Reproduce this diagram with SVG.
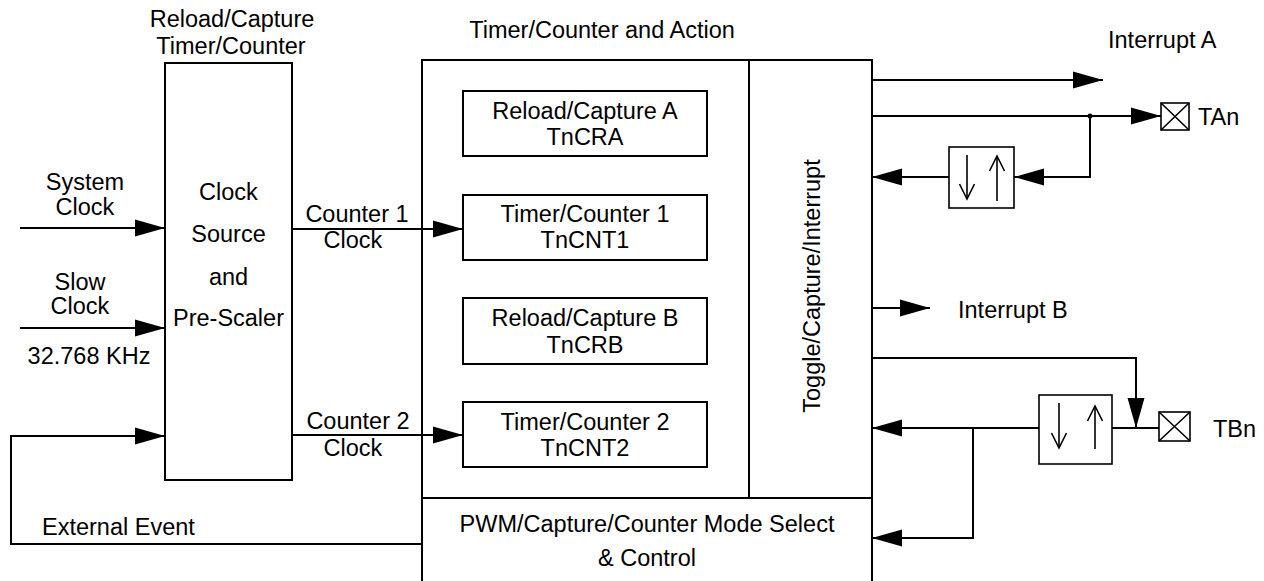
<svg xmlns="http://www.w3.org/2000/svg" width="1264" height="581" viewBox="0 0 1264 581">
<style>
text{font-family:"Liberation Sans",Arial,sans-serif;font-size:23.5px;fill:#000}
.m{text-anchor:middle}
.box{fill:none;stroke:#000;stroke-width:2}
.ln{fill:none;stroke:#000;stroke-width:2}
.thin{fill:none;stroke:#000;stroke-width:1.6}
</style>
<defs>
<marker id="ah" markerUnits="userSpaceOnUse" markerWidth="30" markerHeight="17" refX="30" refY="8.5" orient="auto" overflow="visible">
<path d="M0,0 L30,8.5 L0,17 Z" fill="#000"/>
</marker>
<marker id="va" markerUnits="userSpaceOnUse" markerWidth="16" markerHeight="16" refX="15" refY="7.5" orient="auto" overflow="visible">
<path d="M0,0 L15,7.5 L0,15" fill="none" stroke="#000" stroke-width="1.6"/>
</marker>
</defs>
<rect width="1264" height="581" fill="#fff"/>

<g id="clock-source">
<text class="m" x="232" y="27">Reload/Capture</text>
<text class="m" x="231" y="54">Timer/Counter</text>
<rect class="box" x="165" y="63" width="127" height="417"/>
<text class="m" x="228.5" y="200">Clock</text>
<text class="m" x="228.5" y="242">Source</text>
<text class="m" x="228.5" y="285">and</text>
<text class="m" x="228.5" y="326">Pre-Scaler</text>
</g>

<g id="timer-counter-action">
<text class="m" x="602" y="38">Timer/Counter and Action</text>
<path class="box" d="M422,581 V60 H872 V581"/>
<line class="ln" x1="749" y1="60" x2="749" y2="498"/>
<line class="ln" x1="422" y1="498" x2="872" y2="498"/>
</g>

<g id="rc-a">
<rect class="box" x="463" y="91" width="244" height="65"/>
<text class="m" x="585" y="119">Reload/Capture A</text>
<text class="m" x="585" y="145">TnCRA</text>
</g>
<g id="tc-1">
<rect class="box" x="463" y="195" width="244" height="65"/>
<text class="m" x="585" y="222">Timer/Counter 1</text>
<text class="m" x="585" y="248">TnCNT1</text>
</g>
<g id="rc-b">
<rect class="box" x="463" y="298" width="244" height="66"/>
<text class="m" x="585" y="326">Reload/Capture B</text>
<text class="m" x="585" y="353">TnCRB</text>
</g>
<g id="tc-2">
<rect class="box" x="463" y="402" width="244" height="65"/>
<text class="m" x="585" y="430">Timer/Counter 2</text>
<text class="m" x="585" y="456">TnCNT2</text>
</g>

<g id="toggle">
<text class="m" transform="translate(820,286) rotate(-90)">Toggle/Capture/Interrupt</text>
</g>

<g id="pwm">
<text class="m" x="647" y="532">PWM/Capture/Counter Mode Select</text>
<text class="m" x="647" y="566">&amp; Control</text>
</g>

<g id="io-a">
<rect class="thin" x="949" y="147" width="65" height="61"/>
<line class="thin" x1="967" y1="155" x2="967" y2="199" marker-end="url(#va)"/>
<line class="thin" x1="997" y1="201" x2="997" y2="156" marker-end="url(#va)"/>
</g>
<g id="io-b">
<rect class="thin" x="1039" y="395" width="73" height="69"/>
<line class="thin" x1="1059" y1="403" x2="1059" y2="448" marker-end="url(#va)"/>
<line class="thin" x1="1095" y1="449" x2="1095" y2="406" marker-end="url(#va)"/>
</g>

<g id="pin-tan">
<rect class="thin" x="1161" y="103" width="28" height="27"/>
<path class="thin" d="M1161,103 L1189,130 M1189,103 L1161,130"/>
<text x="1198" y="125">TAn</text>
</g>
<g id="pin-tbn">
<rect class="thin" x="1159" y="412" width="31" height="29"/>
<path class="thin" d="M1159,412 L1190,441 M1190,412 L1159,441"/>
<text x="1213" y="437">TBn</text>
</g>

<g id="labels">
<text class="m" x="85" y="190">System</text>
<text class="m" x="85" y="215">Clock</text>
<text class="m" x="80" y="290">Slow</text>
<text class="m" x="80" y="314">Clock</text>
<text class="m" x="89" y="364">32.768 KHz</text>
<text class="m" x="357" y="222">Counter 1</text>
<text class="m" x="353" y="248">Clock</text>
<text class="m" x="358" y="429">Counter 2</text>
<text class="m" x="353" y="456">Clock</text>
<text x="42" y="535">External Event</text>
<text x="1108" y="48">Interrupt A</text>
<text x="958" y="318">Interrupt B</text>
</g>

<g id="connectors">
<line class="ln" x1="20" y1="228" x2="165" y2="228" marker-end="url(#ah)"/>
<line class="ln" x1="20" y1="328" x2="165" y2="328" marker-end="url(#ah)"/>
<path class="ln" d="M422,544 H11 V436 H165" marker-end="url(#ah)"/>
<line class="ln" x1="292" y1="229" x2="463" y2="229" marker-end="url(#ah)"/>
<line class="ln" x1="292" y1="435" x2="463" y2="435" marker-end="url(#ah)"/>
<line class="ln" x1="872" y1="80" x2="1103" y2="80" marker-end="url(#ah)"/>
<line class="ln" x1="872" y1="116" x2="1161" y2="116" marker-end="url(#ah)"/>
<circle cx="1090" cy="116" r="2.5" fill="#000"/>
<path class="ln" d="M1090,116 V177 H1014" marker-end="url(#ah)"/>
<line class="ln" x1="949" y1="177" x2="872" y2="177" marker-end="url(#ah)"/>
<line class="ln" x1="872" y1="308" x2="930" y2="308" marker-end="url(#ah)"/>
<path class="ln" d="M872,358 H1136 V428" marker-end="url(#ah)"/>
<line class="ln" x1="1112" y1="428" x2="1159" y2="428"/>
<line class="ln" x1="1039" y1="428" x2="872" y2="428" marker-end="url(#ah)"/>
<path class="ln" d="M973,428 V538 H872" marker-end="url(#ah)"/>
</g>
</svg>
